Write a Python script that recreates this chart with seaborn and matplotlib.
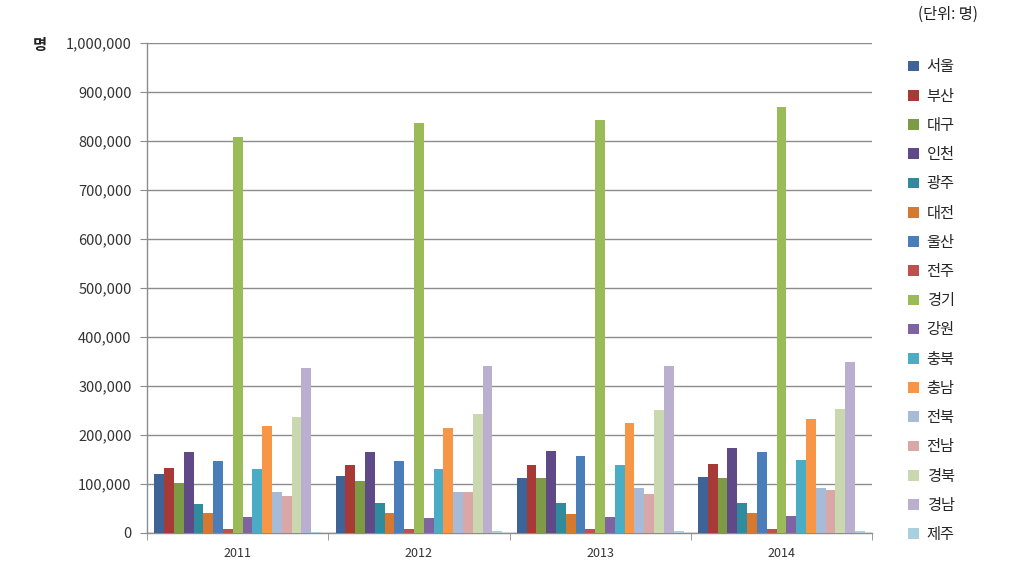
import matplotlib
matplotlib.use("Agg")
import matplotlib.pyplot as plt
import matplotlib.ticker as mticker
from matplotlib.patches import Patch
import seaborn as sns
import pandas as pd

years = ["2011", "2012", "2013", "2014"]
regions = ["서울", "부산", "대구", "인천", "광주", "대전", "울산", "전주", "경기",
           "강원", "충북", "충남", "전북", "전남", "경북", "경남", "제주"]
v2011 = [121000, 133000, 103000, 166000, 59000, 40000, 146000, 7500, 808000,
         32000, 131000, 218000, 83000, 75000, 237000, 337000, 2000]
v2012 = [116000, 138000, 106000, 166000, 62000, 40000, 146000, 7500, 836000,
         30000, 131000, 214000, 84000, 84000, 243000, 341000, 5000]
v2013 = [112000, 138000, 112000, 168000, 62000, 38000, 158000, 7500, 843000,
         32000, 138000, 225000, 91000, 79000, 250000, 341000, 5000]
v2014 = [114000, 141000, 112000, 173000, 62000, 40000, 166000, 7500, 870000,
         35000, 148000, 232000, 91000, 87000, 254000, 350000, 5000]
colors = ["#3E6396", "#A73A37", "#7D9B45", "#5F4A87", "#2E8C9E", "#D4792F",
          "#4A7EBB", "#C0504D", "#9BBB59", "#8064A2", "#4BACC6", "#F79646",
          "#A7BBD9", "#D9A7A6", "#C9D8AE", "#BBAFD0", "#A9D0DF"]

rows = []
for y, vals in zip(years, [v2011, v2012, v2013, v2014]):
    for r, v in zip(regions, vals):
        rows.append({"year": y, "region": r, "value": v})
df = pd.DataFrame(rows)

sns.set_style("white")
plt.rcParams["font.family"] = ["Noto Sans CJK KR", "DejaVu Sans"]

fig = plt.figure(figsize=(10.16, 5.82), dpi=100)
ax = fig.add_axes([0.1447, 0.0842, 0.7136, 0.8419])

sns.barplot(data=df, x="year", y="value", hue="region", hue_order=regions,
            order=years, palette=colors, width=0.92, saturation=1,
            edgecolor="none", linewidth=0, legend=False, ax=ax, zorder=3)

ax.set_ylim(0, 1000000)
ax.set_xlim(-0.5, 3.5)
ax.yaxis.set_major_locator(mticker.MultipleLocator(100000))
ax.yaxis.set_major_formatter(mticker.FuncFormatter(lambda v, p: f"{int(v):,}"))
ax.grid(axis="y", color="#8C8C8C", linewidth=1, zorder=0)
ax.set_axisbelow(True)
for s in ["top", "right"]:
    ax.spines[s].set_visible(False)
for s in ["left", "bottom"]:
    ax.spines[s].set_color("#8C8C8C")
    ax.spines[s].set_linewidth(1)
ax.tick_params(axis="y", which="major", length=5, color="#8C8C8C", direction="out",
               labelsize=10.5, labelcolor="#333333", pad=6, left=True)
ax.set_xticks(range(len(years)))
ax.set_xticklabels(years)
ax.tick_params(axis="x", which="major", length=0, labelsize=9, labelcolor="#333333", pad=10)
ax.set_xticks([-0.5, 0.5, 1.5, 2.5, 3.5], minor=True)
ax.tick_params(axis="x", which="minor", length=5, color="#8C8C8C", direction="out", bottom=True)
ax.set_xlabel("")
ax.set_ylabel("")

fig.text(40 / 1016, 1 - 45 / 582, "명", fontsize=11, fontweight="bold",
         ha="center", va="center", color="#222222")
fig.text(978 / 1016, 1 - 14 / 582, "(단위: 명)", fontsize=11, ha="right",
         va="center", color="#222222")

handles = [Patch(facecolor=c, edgecolor="none") for c in colors]
fig.legend(handles, regions, loc="upper left", bbox_to_anchor=(0.888, 0.91),
           frameon=False, fontsize=11, handlelength=0.7, handleheight=0.7,
           handletextpad=0.5, labelspacing=0.80, borderaxespad=0)

fig.savefig("out.png", dpi=100, facecolor="white")
